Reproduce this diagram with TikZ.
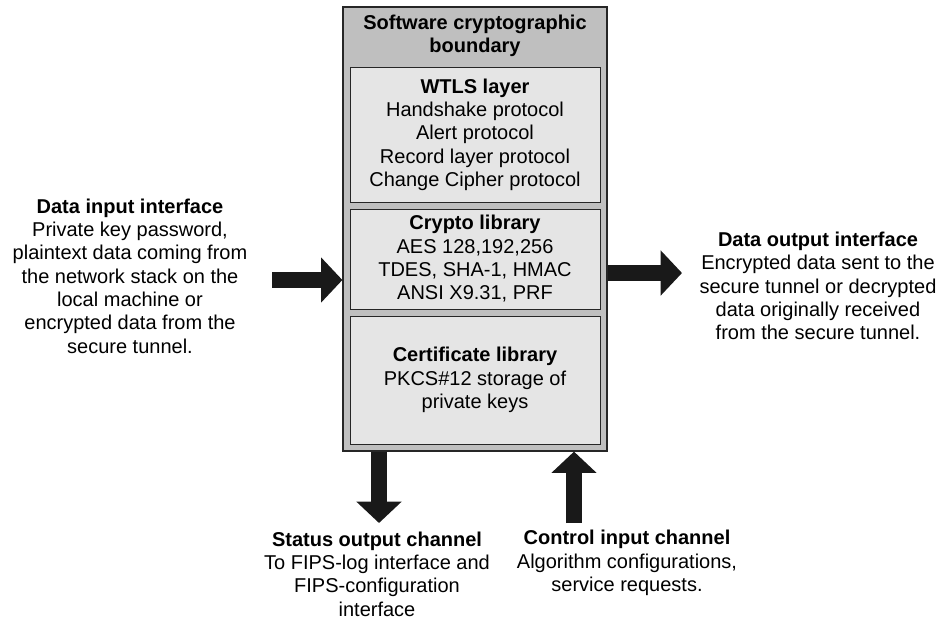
\documentclass[tikz,border=0pt]{standalone}
\usepackage{fontspec}
\setmainfont{Liberation Sans}
\usetikzlibrary{arrows.meta}

\begin{document}
\begin{tikzpicture}[x=0.75pt, y=-0.75pt,
  font=\fontsize{15}{17.5}\selectfont,
  layerbox/.style={draw=black!85, fill=black!10, line width=0.75pt, minimum width=187.5pt, align=center, inner sep=0pt},
  note/.style={align=center, inner sep=0pt},
  bigarrow/.style={draw=black!90, line width=11.5pt, -{Triangle[length=16pt, width=33pt]}}]
\useasboundingbox (0,0) rectangle (941,626);

% software boundary with its three parts
\node[draw=black!85, fill=black!25, line width=0.9pt, minimum width=198pt, minimum height=333pt] (bound) at (475,229) {};
\node[note] (title) at (475,36) {\textbf{Software cryptographic}\\\textbf{boundary}};

\node[layerbox, minimum height=101.25pt] (wtls) at (475,134.5) {\textbf{WTLS layer}\\Handshake protocol\\Alert protocol\\Record layer protocol\\Change Cipher protocol};
\node[layerbox, minimum height=75pt] (crypto) at (475,259) {\textbf{Crypto library}\\AES 128,192,256\\TDES, SHA-1, HMAC\\ANSI X9.31, PRF};
\node[layerbox, minimum height=96pt] (cert) at (475,380) {\textbf{Certificate library}\\PKCS\#12 storage of\\private keys};

% interfaces
\node[note] (datain) at (130,276) {\textbf{Data input interface}\\Private key password,\\plaintext data coming from\\the network stack on the\\local machine or\\encrypted data from the\\secure tunnel.};
\node[note] (dataout) at (818,286) {\textbf{Data output interface}\\Encrypted data sent to the\\secure tunnel or decrypted\\data originally received\\from the secure tunnel.};
\node[note] (status) at (377,574) {\textbf{Status output channel}\\To FIPS-log interface and\\FIPS-configuration\\interface};
\node[note] (control) at (627,563) {\textbf{Control input channel}\\Algorithm configurations,\\service requests.};

\coordinate (inend) at (272,280);
\coordinate (outend) at (682,273);
\coordinate (statend) at (379,523);
\coordinate (ctrlend) at (574,523);

\draw[bigarrow] (inend) -- (inend -| bound.west);
\draw[bigarrow] (outend -| bound.east) -- (outend);
\draw[bigarrow] (statend |- bound.south) -- (statend);
\draw[bigarrow] (ctrlend) -- (ctrlend |- bound.south);
\end{tikzpicture}
\end{document}
